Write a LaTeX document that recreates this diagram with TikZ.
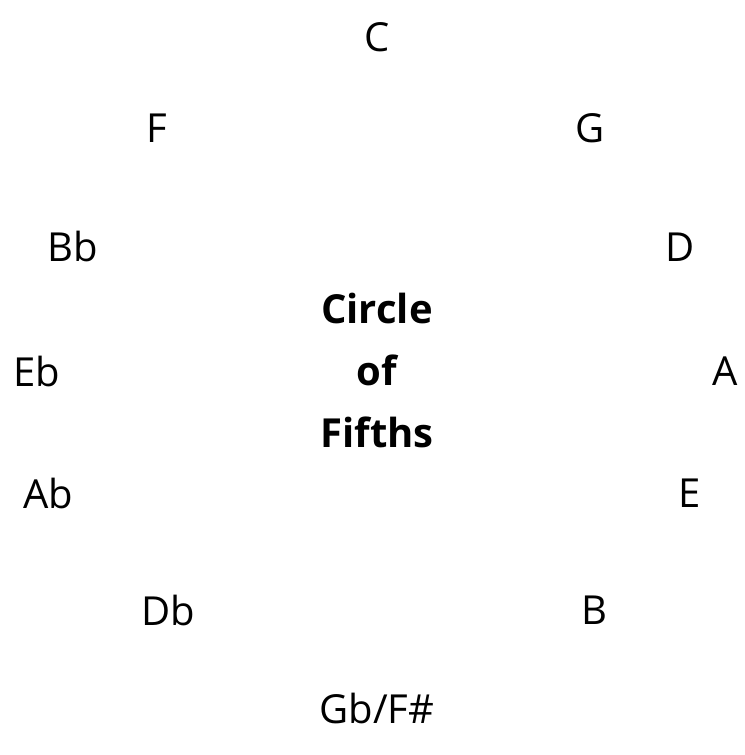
\documentclass[tikz,border=0pt]{standalone}
\usepackage{fontspec}
\setmainfont{Open Sans}
\begin{document}
\begin{tikzpicture}
[
    x=0.75pt, y=-0.75pt,
    keyname/.style={font=\fontsize{30}{34}\selectfont, inner sep=0pt},
    title/.style={font=\fontsize{30}{46.5}\selectfont\bfseries, align=center, inner sep=0pt}
]
    \useasboundingbox (0,0) rectangle (744,755);
    \foreach \name/\x/\y/\txt in {
        C/377/37/C, G/590/128/G, D/680/247/D, A/725/371/A,
        E/690/493/E, B/594/610/B, Gb/377/708/{Gb/F\#},
        Db/168/610/Db, Ab/48/493/Ab, Eb/37/371/Eb,
        Bb/73/247/Bb, F/157/128/F}
    {
        \node [keyname] (\name) at (\x,\y) {\txt};
    }
    \node [title] (circle) at (377,370) {Circle\\of\\Fifths};
\end{tikzpicture}
\end{document}
